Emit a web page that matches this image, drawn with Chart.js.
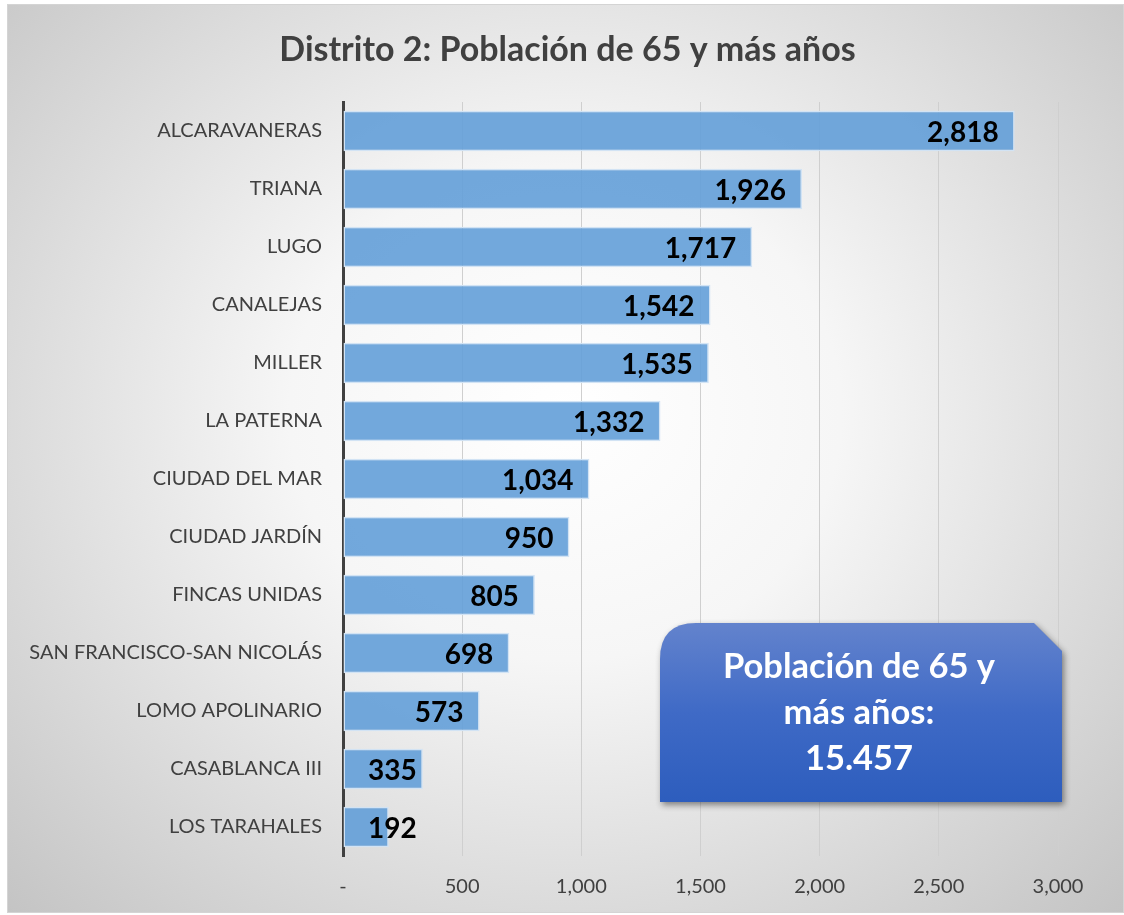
<!DOCTYPE html>
<html lang="es">
  <head>
    <meta charset="UTF-8" />
    <title>Distrito 2: Población de 65 y más años</title>
    <style>
      body { margin: 0; background: #ffffff; }
      .chartBox {
        position: absolute; left: 7px; top: 4px;
        width: 1115px; height: 907px;
        border: 1px solid #d4d4d4;
        background: radial-gradient(ellipse farthest-corner at 50% 45%, #ffffff 0%, #f6f6f6 35%, #c4c4c4 100%);
      }
    </style>
  </head>
  <body>
    <div class="chartBox">
      <canvas id="myChart" width="1115" height="907"></canvas>
    </div>
    <script src="https://cdn.jsdelivr.net/npm/chart.js"></script>
    <script>
      const titulo = "Distrito 2: Población de 65 y más años";
      const barrios = [
        "ALCARAVANERAS", "TRIANA", "LUGO", "CANALEJAS", "MILLER", "LA PATERNA",
        "CIUDAD DEL MAR", "CIUDAD JARDÍN", "FINCAS UNIDAS", "SAN FRANCISCO-SAN NICOLÁS",
        "LOMO APOLINARIO", "CASABLANCA III", "LOS TARAHALES",
      ];
      const poblacion = [2818, 1926, 1717, 1542, 1535, 1332, 1034, 950, 805, 698, 573, 335, 192];
      const xTicks = [0, 500, 1000, 1500, 2000, 2500, 3000];
      const boxLines = ["Población de 65 y", "más años:", "15.457"];

      const fmt = (v) => (v === 0 ? "-" : v.toLocaleString("en-US"));

      // title centred on the whole canvas
      const titlePlugin = {
        id: "titlePlugin",
        afterDraw(chart) {
          const ctx = chart.ctx;
          ctx.save();
          ctx.font = "bold 34px Lato";
          ctx.fillStyle = "#404040";
          ctx.textAlign = "center";
          ctx.textBaseline = "middle";
          ctx.fillText(titulo, chart.width / 2 + 2, 45);
          ctx.restore();
        },
      };

      // value labels, right side inside the bar
      const barLabels = {
        id: "barLabels",
        afterDatasetsDraw(chart) {
          const ctx = chart.ctx;
          const area = chart.chartArea;
          ctx.save();
          ctx.font = "bold 28px Lato";
          ctx.fillStyle = "#000000";
          ctx.textBaseline = "middle";
          ctx.textAlign = "left";
          chart.getDatasetMeta(0).data.forEach((bar, i) => {
            const txt = fmt(poblacion[i]);
            const w = ctx.measureText(txt).width;
            let x = bar.x - 16 - w;
            if (x < area.left + 25) x = area.left + 25;
            ctx.fillText(txt, x, bar.y + 2);
          });
          ctx.restore();
        },
      };

      // total box
      const totalBox = {
        id: "totalBox",
        afterDraw(chart) {
          const ctx = chart.ctx;
          const area = chart.chartArea;
          const l = area.right - 398, r = area.right + 4;
          const t = area.top + 521, b = area.top + 700;
          const rad = 36, snip = 28;
          ctx.save();
          ctx.beginPath();
          ctx.moveTo(l + rad, t);
          ctx.lineTo(r - snip, t);
          ctx.lineTo(r, t + snip);
          ctx.lineTo(r, b);
          ctx.lineTo(l, b);
          ctx.lineTo(l, t + rad);
          ctx.quadraticCurveTo(l, t, l + rad, t);
          ctx.closePath();
          const g = ctx.createLinearGradient(0, t, 0, b);
          g.addColorStop(0, "#6383cd");
          g.addColorStop(0.5, "#3f6ac6");
          g.addColorStop(1, "#2d5dbd");
          ctx.shadowColor = "rgba(0,0,0,0.45)";
          ctx.shadowBlur = 6;
          ctx.shadowOffsetX = 2;
          ctx.shadowOffsetY = 3;
          ctx.fillStyle = g;
          ctx.fill();
          ctx.shadowColor = "transparent";
          ctx.fillStyle = "#ffffff";
          ctx.font = "bold 34.5px Lato";
          ctx.textAlign = "center";
          ctx.textBaseline = "alphabetic";
          const cx = (l + r) / 2 - 2;
          boxLines.forEach((line, i) => {
            ctx.fillText(line, cx, t + 55 + i * 46);
          });
          ctx.restore();
        },
      };

      const ctx = document.getElementById("myChart").getContext("2d");
      const myChart = new Chart(ctx, {
        type: "bar",
        data: {
          labels: barrios,
          datasets: [
            {
              data: poblacion,
              backgroundColor: "rgba(99, 159, 216, 0.9)",
              borderColor: "#d2e3f4",
              borderWidth: 1.5,
              borderSkipped: false,
              barPercentage: 0.7,
              categoryPercentage: 1,
            },
          ],
        },
        options: {
          indexAxis: "y",
          responsive: false,
          animation: false,
          layout: { padding: { left: 0, right: 65, top: 97, bottom: 0 } },
          plugins: {
            legend: { display: false },
            tooltip: { enabled: false },
            title: { display: false },
          },
          scales: {
            x: {
              min: 0,
              max: 3000,
              afterBuildTicks(scale) {
                scale.ticks = xTicks.map((v) => ({ value: v }));
              },
              afterFit(scale) {
                scale.height = 56;
              },
              grid: { color: "#cfcfcf", lineWidth: 1, drawTicks: false },
              border: { display: false },
              ticks: {
                padding: 19,
                color: "#404040",
                font: { family: "Lato", size: 20 },
                callback: (v) => fmt(v),
              },
            },
            y: {
              afterFit(scale) {
                scale.width = 335;
              },
              grid: { display: false, drawTicks: false },
              border: { display: true, color: "#404040", width: 3 },
              ticks: {
                padding: 21,
                color: "#404040",
                font: { family: "Lato", size: 20 },
              },
            },
          },
        },
        plugins: [titlePlugin, barLabels, totalBox],
      });
    </script>
  </body>
</html>
